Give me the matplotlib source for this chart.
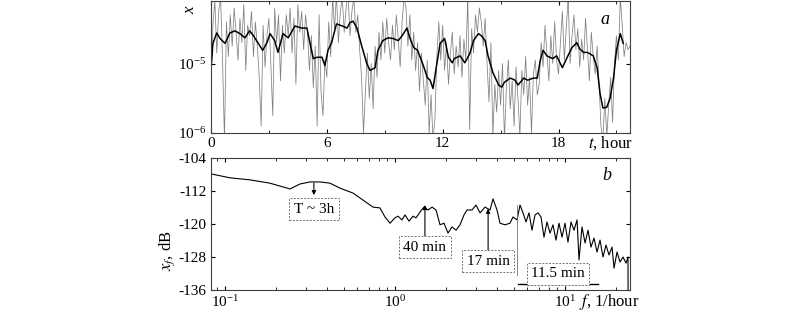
import numpy as np
import matplotlib
matplotlib.use("Agg")
import matplotlib.pyplot as plt
from matplotlib.ticker import MultipleLocator, FixedLocator, NullLocator, LogLocator

plt.rcParams['font.family'] = 'serif'
plt.rcParams['font.serif'] = ['Liberation Serif', 'DejaVu Serif']
plt.rcParams['mathtext.fontset'] = 'stix'
plt.rcParams['axes.unicode_minus'] = False
plt.rcParams['font.size'] = 11

# raw record, log10(x), one sample every 6 minutes
raw_log = [
    -5.30, -4.45, -4.10, -4.85, -4.25, -4.05, -4.95, -6.10, -4.40, -4.90,
    -4.30, -4.75, -4.20, -4.55, -4.95, -4.35, -4.70, -4.15, -5.10, -4.45,
    -4.60, -4.25, -4.90, -4.40, -4.75, -5.20, -5.90, -4.45, -5.05, -4.60,
    -4.35, -5.00, -5.75, -4.20, -4.70, -4.30, -5.25, -4.45, -4.85, -4.30,
    -4.60, -4.20, -4.85, -4.35, -5.30, -4.15, -4.55, -4.25, -4.80, -4.30,
    -4.55, -5.10, -4.60, -5.35, -4.75, -5.90, -4.30, -5.40, -5.75, -4.95,
    -5.20, -4.40, -4.90, -4.05, -4.50, -4.00, -4.70, -4.25, -4.05, -4.55,
    -4.20, -4.00, -4.60, -4.25, -4.05, -4.55, -4.30, -4.80, -5.20, -6.00,
    -5.40, -4.85, -5.50, -5.00, -5.65, -4.75, -5.20, -4.55, -4.95, -4.40,
    -4.85, -4.35, -4.70, -4.95, -4.45, -4.80, -4.30, -4.65, -5.05, -4.40,
    -4.05, -4.20, -4.75, -4.30, -4.95, -4.55, -5.10, -4.70, -5.40, -4.85,
    -5.25, -5.60, -4.95, -6.00, -5.45, -6.10, -5.80, -4.90, -4.40, -4.95,
    -4.45, -5.10, -4.70, -5.30, -4.85, -4.55, -5.15, -4.75, -5.05, -4.60,
    -5.20, -4.65, -4.95, -4.05, -5.95, -4.50, -4.85, -4.30, -4.55, -4.20,
    -4.40, -4.75, -4.35, -5.00, -5.55, -4.70, -6.05, -5.30, -5.70, -5.10,
    -5.60, -5.00, -6.10, -5.35, -4.95, -5.65, -5.25, -5.90, -5.05, -5.50,
    -6.05, -5.10, -5.45, -4.90, -5.60, -5.20, -6.00, -5.15, -4.95, -5.45,
    -5.30, -4.70, -5.05, -4.45, -4.85, -5.25, -4.60, -5.00, -4.40, -4.95,
    -5.15, -4.70, -4.25, -4.95, -4.50, -4.05, -5.00, -4.60, -4.30, -4.80,
    -4.50, -5.05, -4.65, -4.95, -4.35, -4.80, -5.25, -4.55, -4.90, -5.15,
    -4.75, -5.30, -5.90, -6.10, -5.50, -6.05, -5.60, -5.20, -5.85, -5.00,
    -4.60, -4.95, -4.05, -4.45, -4.90, -4.70, -4.80, -4.75,
]
t_raw = np.arange(len(raw_log)) * 0.1

# smoothed record
t_smooth = [
    0.0, 0.1, 0.3, 0.47, 0.73, 0.98, 1.24, 1.5, 1.76, 2.0, 2.2, 2.45, 2.68,
    2.9, 3.06, 3.3, 3.47, 3.73, 4.0, 4.35, 4.7, 4.97, 5.13, 5.3, 5.5, 5.75,
    5.9, 6.06, 6.25, 6.5, 6.8, 7.05, 7.2, 7.36, 7.56, 7.8, 8.07, 8.24, 8.5,
    8.65, 8.9, 9.17, 9.43, 9.7, 9.9, 10.15, 10.3, 10.5, 10.7, 11.0, 11.2,
    11.35, 11.5, 11.7, 11.87, 12.1, 12.3, 12.5, 12.6, 12.9, 13.15, 13.4,
    13.6, 13.85, 14.0, 14.2, 14.35, 14.6, 14.9, 15.06, 15.2, 15.5, 15.75,
    15.9, 16.2, 16.4, 16.7, 16.9, 17.05, 17.2, 17.4, 17.7, 17.9, 18.2,
    18.45, 18.7, 18.95, 19.1, 19.3, 19.5, 19.8, 20.0, 20.15, 20.3, 20.5,
    20.67, 20.85, 21.0, 21.2, 21.35,
]
smooth_log = [
    -5.10, -4.71, -4.56, -4.64, -4.71, -4.56, -4.53, -4.57, -4.63, -4.53,
    -4.60, -4.71, -4.81, -4.70, -4.57, -4.67, -4.84, -4.57, -4.63, -4.46,
    -4.49, -4.49, -4.71, -4.93, -4.91, -4.91, -5.03, -4.81, -4.70, -4.43,
    -4.46, -4.49, -4.41, -4.39, -4.49, -4.74, -5.00, -5.10, -5.06, -4.81,
    -4.67, -4.63, -4.64, -4.67, -4.60, -4.49, -4.63, -4.77, -4.81, -5.03,
    -5.20, -5.24, -5.36, -5.00, -4.71, -4.64, -4.91, -4.99, -4.93, -4.89,
    -4.99, -4.86, -4.67, -4.57, -4.60, -4.67, -4.89, -5.13, -5.31, -5.34,
    -5.27, -5.21, -5.24, -5.31, -5.21, -5.24, -5.21, -5.21, -4.96, -4.81,
    -4.89, -4.93, -4.89, -5.06, -4.91, -4.77, -4.70, -4.79, -4.84, -4.84,
    -4.89, -5.06, -5.43, -5.64, -5.63, -5.50, -5.21, -4.81, -4.57, -4.71,
]

# power spectrum
freq = [
    0.0838, 0.1070, 0.1403, 0.1839, 0.2412, 0.2761, 0.3162, 0.3621, 0.4146,
    0.4747, 0.5662, 0.6482, 0.7423, 0.8161, 0.8733, 0.9346, 1.0, 1.041,
    1.099, 1.145, 1.209, 1.276, 1.329, 1.403, 1.481, 1.564, 1.651, 1.743,
    1.840, 1.942, 2.050, 2.164, 2.285, 2.412, 2.546, 2.652, 2.838, 2.996,
    3.162, 3.384, 3.622, 3.772, 3.981, 4.146, 4.437, 4.748, 4.945, 5.222,
    5.437, 5.662, 5.897, 6.141, 6.396, 6.661, 6.937, 7.224, 7.524, 7.836,
    8.160, 8.498, 8.851, 9.219, 9.603, 10.0, 10.41, 10.85, 11.30, 11.77,
    12.09, 12.59, 13.12, 13.66, 14.22, 14.81, 15.43, 16.07, 16.73, 17.43,
    18.15, 18.91, 19.43, 20.23, 21.07, 21.94, 22.85, 23.48, 23.49,
]
power_db = [
    -107.9, -108.8, -109.3, -110.1, -111.5, -110.3, -109.8, -109.8, -110.1,
    -111.3, -112.5, -114.2, -115.9, -116.1, -118.3, -119.8, -118.5, -118.1,
    -119.0, -117.8, -119.3, -118.1, -118.5, -117.1, -115.9, -116.6, -115.9,
    -116.6, -120.2, -119.8, -122.2, -120.7, -121.5, -120.2, -117.8, -116.6,
    -116.6, -115.4, -117.3, -115.9, -116.6, -113.9, -116.6, -119.8, -120.2,
    -119.8, -118.3, -119.0, -115.4, -117.3, -119.5, -117.3, -121.5, -117.8,
    -117.3, -118.3, -123.2, -119.5, -122.2, -120.2, -123.9, -119.8, -123.2,
    -119.8, -124.4, -119.5, -121.5, -119.0, -128.7, -120.7, -124.6, -121.5,
    -125.6, -123.4, -126.8, -123.9, -128.0, -125.1, -127.5, -125.6, -130.7,
    -126.8, -129.2, -128.0, -129.5, -128.0, -136.0,
]

# marked periods (hours) and their labels
periods = [3.0, 40 / 60, 17 / 60, 11.5 / 60]
period_labels = ['T ~ 3h', '40 min', '17 min', '11.5 min']

fig = plt.figure(figsize=(7.97, 3.27), dpi=100)
ax1 = fig.add_axes([0.2647, 0.5933, 0.5257, 0.4037])
ax2 = fig.add_axes([0.2647, 0.1131, 0.5257, 0.4037])

# --- a: time series ---
ax1.plot(t_raw, 10 ** np.array(raw_log), color='0.5', lw=0.55)
ax1.plot(t_smooth, 10 ** np.array(smooth_log), color='black', lw=1.1)
ax1.set_yscale('log')
ax1.set_xlim(0, 21.7)
ax1.set_ylim(1e-6, 10 ** -4.1)
ax1.xaxis.set_major_locator(FixedLocator([0, 6, 12, 18]))
ax1.xaxis.set_minor_locator(MultipleLocator(3))
ax1.yaxis.set_major_locator(LogLocator(base=10))
ax1.yaxis.set_minor_locator(NullLocator())
ax1.tick_params(which='both', direction='in', top=True, right=True,
                labelsize=11, pad=3)
ax1.tick_params(which='major', length=3)
ax1.tick_params(which='minor', length=2)
ax1.text(-0.05, 0.93, 'x', transform=ax1.transAxes, rotation=90,
         style='italic', fontsize=12, ha='center', va='center')
ax1.text(0.899, -0.08, r'$t$, hour', transform=ax1.transAxes,
         fontsize=12, ha='left', va='center')
ax1.text(0.94, 0.86, 'a', transform=ax1.transAxes, style='italic',
         fontsize=13, ha='center', va='center')

# --- b: spectrum ---
ax2.plot(freq, power_db, color='black', lw=0.8)
ax2.set_xscale('log')
ax2.set_xlim(0.0827, 24.1)
ax2.set_ylim(-136, -104)
ax2.yaxis.set_major_locator(FixedLocator([-136, -128, -120, -112, -104]))
ax2.tick_params(which='both', direction='in', top=True, right=True,
                labelsize=11, pad=3)
ax2.tick_params(which='major', length=3)
ax2.tick_params(which='minor', length=2)
ax2.text(-0.105, 0.30, r'$x_f$, dB', transform=ax2.transAxes, rotation=90,
         fontsize=12, ha='center', va='center')
ax2.text(0.878, -0.09, r'$f$, 1/hour', transform=ax2.transAxes,
         fontsize=12, ha='left', va='center')
ax2.text(0.945, 0.87, 'b', transform=ax2.transAxes, style='italic',
         fontsize=13, ha='center', va='center')

box = dict(boxstyle='square,pad=0.3', fc='white', ec='0.45', lw=0.7, ls=(0, (2, 1.5)))

# T ~ 3h: arrow down from the curve onto the box
f0 = 1 / periods[0]
ax2.annotate('', xy=(f0, -113.0), xytext=(f0, -110.1),
             arrowprops=dict(arrowstyle='-|>', color='black', lw=0.8,
                             mutation_scale=6, shrinkA=0, shrinkB=0))
ax2.text(f0, -116.4, period_labels[0], ha='center', va='center', fontsize=11, bbox=box)

# 40 min and 17 min: arrows up from the boxes to the peaks
for T, lab, y_box, y_tail, y_tip in [(periods[1], period_labels[1], -125.6, -123.0, -115.4),
                                     (periods[2], period_labels[2], -129.0, -126.4, -116.3)]:
    f = 1 / T
    ax2.annotate('', xy=(f, y_tip), xytext=(f, y_tail),
                 arrowprops=dict(arrowstyle='-|>', color='black', lw=0.8,
                                 mutation_scale=6, shrinkA=0, shrinkB=0))
    ax2.text(f, y_box, lab, ha='center', va='center', fontsize=11, bbox=box)

# 11.5 min: thin marker line, box to the right
f3 = 1 / periods[3]
ax2.plot([f3, f3], [-115.4, -132.4], color='0.45', lw=0.6)
ax2.text(9.1, -132.1, period_labels[3], ha='center', va='center', fontsize=11, bbox=box)
ax2.plot([f3 * 1.01, 15.6], [-134.6, -134.6], color='black', lw=1.0)

for ax in (ax1, ax2):
    for s in ax.spines.values():
        s.set_linewidth(0.8)
        s.set_color('0.25')

fig.savefig('out.png', dpi=100)
